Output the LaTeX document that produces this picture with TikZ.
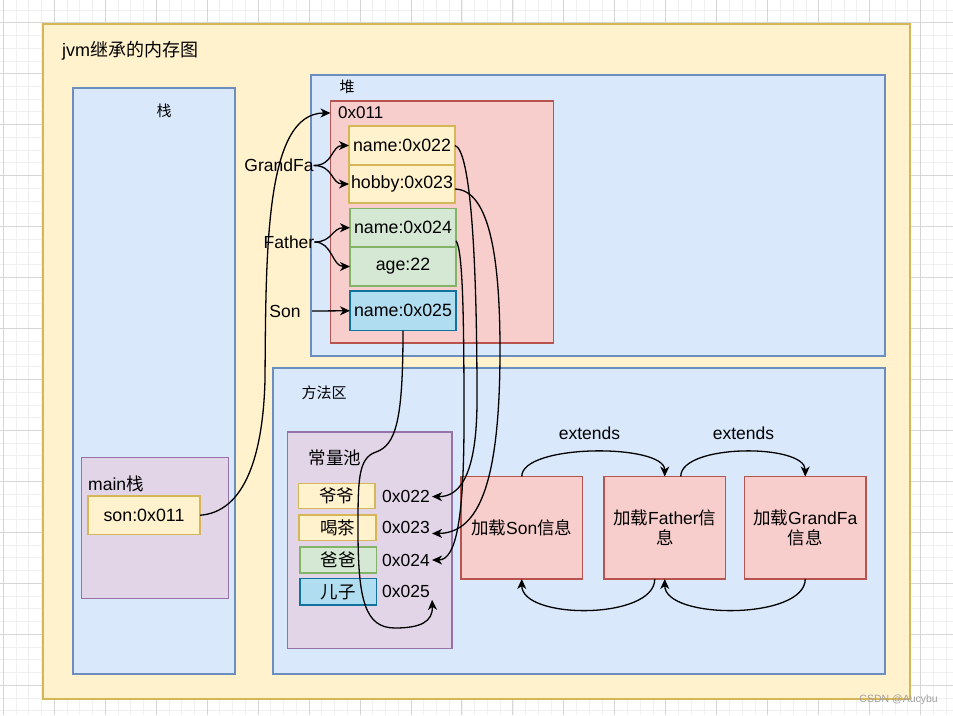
\documentclass[tikz,border=0pt]{standalone}
\usepackage{fontspec}
\setmainfont{Liberation Sans}
\newfontfamily\cjk{Noto Sans CJK SC}
\usetikzlibrary{arrows.meta}
\definecolor{yfill}{HTML}{FFF2CC}
\definecolor{ydraw}{HTML}{D6B656}
\definecolor{bfill}{HTML}{DAE8FC}
\definecolor{bdraw}{HTML}{6C8EBF}
\definecolor{pfill}{HTML}{E1D5E7}
\definecolor{pdraw}{HTML}{9673A6}
\definecolor{rfill}{HTML}{F8CECC}
\definecolor{rdraw}{HTML}{B85450}
\definecolor{gfill}{HTML}{D5E8D4}
\definecolor{gdraw}{HTML}{82B366}
\definecolor{cfill}{HTML}{B1DDF0}
\definecolor{cdraw}{HTML}{10739E}
\definecolor{minorc}{HTML}{F0F0F0}
\definecolor{majorc}{HTML}{D6D6D6}
\definecolor{wmark}{HTML}{A0A0A0}
\tikzset{
  box/.style={rectangle, inner sep=0pt, outer sep=0pt, line width=1.3pt, anchor=north west},
  ybox/.style={box, fill=yfill, draw=ydraw},
  bbox/.style={box, fill=bfill, draw=bdraw},
  pbox/.style={box, fill=pfill, draw=pdraw},
  rbox/.style={box, fill=rfill, draw=rdraw},
  gbox/.style={box, fill=gfill, draw=gdraw},
  cbox/.style={box, fill=cfill, draw=cdraw},
  txt/.style={inner sep=0pt, font=\fontsize{17.5}{20}\selectfont},
  small/.style={inner sep=0pt, font=\fontsize{15}{18}\selectfont},
  entry/.style={font=\fontsize{17.8}{20}\selectfont},
  conn/.style={line width=1.3pt, -{Stealth[length=10pt,width=9pt,inset=3pt]}},
}
\begin{document}
\begin{tikzpicture}[x=1pt,y=-1pt]
\useasboundingbox (0,0) rectangle (953,715);
% grid
\foreach \i in {0,...,75} {\draw[minorc, line width=0.8pt] ({3.3+12.74*\i},0) -- ++(0,715);}
\foreach \j in {0,...,56} {\draw[minorc, line width=0.8pt] (0,{9.96+12.74*\j}) -- ++(953,0);}
\foreach \i in {0,...,18} {\draw[majorc, line width=0.8pt] ({3.3+50.95*\i},0) -- ++(0,715);}
\foreach \j in {0,...,13} {\draw[majorc, line width=0.8pt] (0,{22.7+50.95*\j}) -- ++(953,0);}

% outer frame
\node[ybox, minimum width=867pt, minimum height=675pt] (frame) at (43,24) {};
\node[anchor=west, inner sep=0pt, font=\fontsize{18}{20}\selectfont] (title) at (62,51) {jvm{\cjk 继承的内存图}};

% stack
\node[bbox, minimum width=162pt, minimum height=586pt] (stack) at (73,88) {};
\node[small] (stacklbl) at (164,111) {\cjk 栈};
\node[pbox, minimum width=147pt, minimum height=141pt] (mainst) at (81.5,457.5) {};
\node[txt, anchor=west] (mainlbl) at (88,484) {main{\cjk 栈}};
\node[ybox, minimum width=112pt, minimum height=38.5pt, entry] (s011) at (88,496) {son:0x011};

% heap
\node[bbox, minimum width=574pt, minimum height=281pt] (heap) at (311,75) {};
\node[small] (heaplbl) at (347,87) {\cjk 堆};
\node[rbox, minimum width=223pt, minimum height=242pt] (obj) at (330.5,101) {};
\node[anchor=west, inner sep=0pt, font=\fontsize{17}{20}\selectfont] (l011) at (338,113) {0x011};
\node[ybox, minimum width=106pt, minimum height=39pt, entry] (n22) at (349,126) {name:0x022};
\node[ybox, minimum width=106pt, minimum height=38pt, entry] (n23) at (349,165) {hobby:0x023};
\node[gbox, minimum width=106pt, minimum height=38.5pt, entry] (n24) at (350,208.5) {name:0x024};
\node[gbox, minimum width=106pt, minimum height=39pt, entry] (a22) at (350,247) {age:22};
\node[cbox, minimum width=106pt, minimum height=39.5pt, entry] (n25) at (350,291) {name:0x025};

\node[txt] (gf) at (279,165.5) {GrandFa};
\node[txt] (fa) at (289,242) {Father};
\node[txt, minimum width=54pt] (so) at (285,311) {Son};

% method area
\node[bbox, minimum width=612pt, minimum height=306pt] (meth) at (273,368) {};
\node[small] (methlbl) at (324,393) {\cjk 方法区};
\node[pbox, minimum width=164.5pt, minimum height=216.5pt] (pool) at (287.5,432) {};
\node[txt] (poollbl) at (335,458) {\cjk 常量池};
\node[ybox, minimum width=76.5pt, minimum height=25pt, txt] (c1) at (298.5,483.5) {\cjk 爷爷};
\node[ybox, minimum width=77pt, minimum height=25.5pt, txt] (c2) at (299,515) {\cjk 喝茶};
\node[gbox, minimum width=76.5pt, minimum height=26pt, txt] (c3) at (300,547) {\cjk 爸爸};
\node[cbox, minimum width=76.5pt, minimum height=26.5pt, txt] (c4) at (300,578.5) {\cjk 儿子};
\node[anchor=west, inner sep=2pt, font=\fontsize{17.5}{20}\selectfont] (p22) at (380,496.5) {0x022};
\node[anchor=west, inner sep=2pt, font=\fontsize{17.5}{20}\selectfont] (p23) at (380,527.5) {0x023};
\node[anchor=west, inner sep=2pt, font=\fontsize{17.5}{20}\selectfont] (p24) at (380,560) {0x024};
\node[anchor=west, inner sep=2pt, font=\fontsize{17.5}{20}\selectfont] (p25) at (380,591.5) {0x025};

\node[rbox, minimum width=121.5pt, minimum height=102.5pt, txt, align=center] (ks) at (461,476.5) {{\cjk 加载}Son{\cjk 信息}};
\node[rbox, minimum width=121.5pt, minimum height=102.5pt, txt, align=center] (kf) at (604,476.5) {{\cjk 加载}Father{\cjk 信}\\{\cjk 息}};
\node[rbox, minimum width=121.5pt, minimum height=102.5pt, txt, align=center] (kg) at (744.5,476.5) {{\cjk 加载}GrandFa\\{\cjk 信息}};
\node[txt] (ext1) at (589.5,433) {extends};
\node[txt] (ext2) at (743.5,433) {extends};

% connectors
\draw[conn] (gf.east) .. controls +(20,0) and +(-18,0) .. (n22.west);
\draw[conn] (gf.east) .. controls +(20,0) and +(-18,0) .. (n23.west);
\draw[conn] (fa.east) .. controls +(18,0) and +(-18,0) .. (n24.west);
\draw[conn] (fa.east) .. controls +(18,0) and +(-18,0) .. (a22.west);
\draw[conn] (so.east) -- (n25.west);

\draw[conn] (s011.east) .. controls (245,512) and (263,455) .. (265,380)
   .. controls (266,250) and (265,113) .. (obj.west |- l011);

\draw[conn] (n22.east) .. controls (470,150) and (477,250) .. (477,400)
   .. controls (477,470) and (462,497) .. (p22.east);
\draw[conn] ([yshift=-5pt]n23.east) .. controls (490,190) and (500,260) .. (500,350)
   .. controls (500,480) and (480,533) .. ([yshift=-6pt]p23.east);
\draw[conn] ([yshift=-13pt]n24.east) .. controls (463,250) and (464,320) .. (464,420)
   .. controls (464,520) and (456,560) .. (p24.east);
\draw[conn] (n25.south) .. controls (403,420) and (396,445) .. (376,452)
   .. controls (358,458) and (358,480) .. (358,530)
   .. controls (358,600) and (365,628) .. (395,628)
   .. controls (420,628) and (433,622) .. (p25.south east);

\draw[conn] (ks.north) .. controls +(0,-33) and +(0,-33) .. (kf.north);
\draw[conn] ([xshift=16pt]kf.north) .. controls +(0,-33) and +(0,-33) .. (kg.north);
\draw[conn] ([xshift=-10pt]kf.south) .. controls +(0,41) and +(0,41) .. (ks.south);
\draw[conn] (kg.south) .. controls +(0,41) and +(0,41) .. (kf.south);

\node[anchor=east, inner sep=0pt, text=wmark, font=\fontsize{10.5}{12}\selectfont] (wm) at (938,700) {CSDN @Aucybu};
\end{tikzpicture}
\end{document}
